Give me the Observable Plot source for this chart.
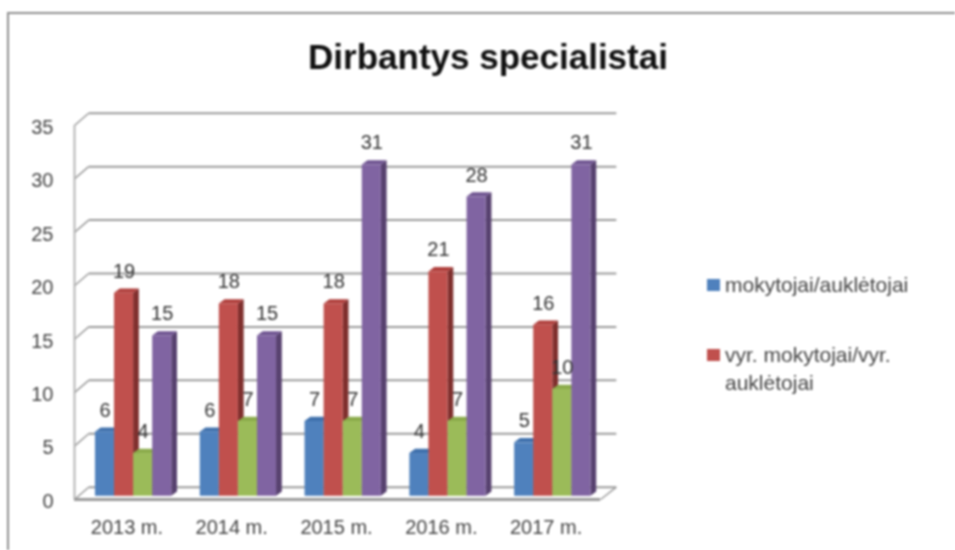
<!DOCTYPE html>
<html lang="lt">
<head>
<meta charset="utf-8">
<script src="https://cdn.jsdelivr.net/npm/d3@7"></script>
<script src="https://cdn.jsdelivr.net/npm/@observablehq/plot@0.6"></script>
<style>
  html, body { margin: 0; background: #fff; }
  #page { position: relative; width: 955px; height: 550px; overflow: hidden; font-family: "Liberation Sans", sans-serif; filter: blur(0.9px); }
  #frame { position: absolute; left: 7px; top: 12px; width: 960px; height: 550px; border-left: 2px solid #8f8f8f; border-top: 2px solid #8f8f8f; }
  #title { position: absolute; left: 0; width: 976px; top: 37px; text-align: center; font-size: 35px; font-weight: bold; color: #111; white-space: nowrap; }
  #chart { position: absolute; left: 0; top: 0; }
  .legend { position: absolute; left: 707px; width: 240px; color: #444; font-size: 21px; line-height: 28px; }
  .legend i { position: absolute; left: 0; top: 8px; width: 13px; height: 12px; }
  .legend span { display: block; margin-left: 18px; }
</style>
</head>
<body>
<div id="page">
  <div id="frame"></div>
  <div id="chart"></div>
  <div id="title"></div>
  <div id="legend"></div>
</div>
<script>
const chartTitle = "Dirbantys specialistai";
const years = ["2013 m.", "2014 m.", "2015 m.", "2016 m.", "2017 m."];
const yTicks = [0, 5, 10, 15, 20, 25, 30, 35];
const seriesNames = ["mokytojai/auklėtojai", "vyr. mokytojai/vyr. auklėtojai", "", ""];
const mokytojai = [6, 6, 7, 4, 5];
const vyrMokytojai = [19, 18, 18, 21, 16];
const trecia = [4, 7, 7, 7, 10];
const ketvirta = [15, 15, 31, 28, 31];
const frontColors = ["#4F81BD", "#C0504D", "#9BBB59", "#8064A2"];
const sideColors = ["#375E8E", "#7F2F2D", "#6F8A3C", "#57416F"];
const topColors = ["#3F70AC", "#B03F3C", "#8BAB4B", "#6F5491"];

const values = [mokytojai, vyrMokytojai, trecia, ketvirta];
const wallX = 0.135, wallY = 1.15;          // depth of the chart box, in scale units
const floorEnd = 5.02, gridEnd = 5.17;
const baseX = 0.2, barW = 0.182, baseY = 0.3; // bars stand on the middle of the floor
const capX = 0.055, capY = 0.4;              // depth of each bar

const bars = values.flatMap((arr, s) => arr.map((v, i) => {
  const x1 = i + baseX + s * barW;
  return { s, i, v, x1, x2: x1 + barW, y1: baseY, y2: v + baseY, cx: x1 + barW / 2 };
}));
const faces = (rows, fn) => rows.flatMap(b => fn(b).map(p => ({ ...p, key: b.s + "-" + b.i, s: b.s })));
const marks = [];

// box: walls, floor and grid
const gridColor = "#9a9a9a";
marks.push(Plot.link(yTicks.slice(1), { x1: wallX, x2: gridEnd, y1: v => v + wallY, y2: v => v + wallY, stroke: gridColor, strokeWidth: 2 }));
marks.push(Plot.link(yTicks, { x1: 0, x2: wallX, y1: v => v, y2: v => v + wallY, stroke: gridColor, strokeWidth: 1.5 }));
marks.push(Plot.link([0], { x1: wallX, x2: gridEnd, y1: wallY, y2: wallY, stroke: gridColor, strokeWidth: 2 }));
marks.push(Plot.link([0], { x1: floorEnd, x2: gridEnd, y1: 0, y2: wallY, stroke: gridColor, strokeWidth: 1.5 }));
marks.push(Plot.ruleX([0], { y1: 0, y2: 35, stroke: "#b5b5b5", strokeWidth: 2 }));
marks.push(Plot.ruleY([0], { x1: 0, x2: floorEnd, stroke: gridColor, strokeWidth: 3 }));

// bars, one series after the other so later ones overlap earlier sides
[0, 1, 2, 3].forEach(s => {
  const rows = bars.filter(b => b.s === s);
  marks.push(Plot.areaY(faces(rows, b => [
    { x: b.x2, a: b.y1, c: b.y2 },
    { x: b.x2 + capX, a: b.y1 + capY, c: b.y2 + capY }
  ]), { x: "x", y1: "a", y2: "c", z: "key", fill: sideColors[s] }));
  marks.push(Plot.areaY(faces(rows, b => [
    { x: b.x1, a: b.y2, c: b.y2 },
    { x: b.x1 + capX, a: b.y2, c: b.y2 + capY },
    { x: b.x2, a: b.y2, c: b.y2 + capY },
    { x: b.x2 + capX, a: b.y2 + capY, c: b.y2 + capY }
  ]), { x: "x", y1: "a", y2: "c", z: "key", fill: topColors[s] }));
  marks.push(Plot.rect(rows, { x1: "x1", x2: "x2", y1: "y1", y2: "y2", fill: frontColors[s], inset: 0 }));
});

marks.push(Plot.text(bars, { x: "cx", y: "y2", text: d => String(d.v), dy: -22, fontSize: 20, fill: "#333" }));
marks.push(Plot.axisY({ ticks: yTicks, tickSize: 0, tickPadding: 21, fontSize: 20, dy: 2, fill: "#444", label: null, tickFormat: d => String(d) }));
marks.push(Plot.axisX({ ticks: years.map((_, i) => i + 0.5), tickFormat: t => years[Math.floor(t)], tickSize: 0, tickPadding: 20, fontSize: 20, fill: "#444", label: null }));

const plot = Plot.plot({
  width: 955, height: 550,
  marginTop: 125, marginBottom: 51, marginLeft: 74, marginRight: 357,
  x: { type: "linear", domain: [0, 5] },
  y: { type: "linear", domain: [0, 35] },
  style: { background: "transparent", fontFamily: '"Liberation Sans", sans-serif', overflow: "visible" },
  marks
});
document.getElementById("chart").append(plot);
document.getElementById("title").textContent = chartTitle;

const legendTops = [271, 341];
seriesNames.slice(0, 2).forEach((name, k) => {
  const d = document.createElement("div");
  d.className = "legend";
  d.style.top = legendTops[k] + "px";
  const sw = document.createElement("i");
  sw.style.background = frontColors[k];
  const t = document.createElement("span");
  t.textContent = name;
  d.append(sw, t);
  document.getElementById("legend").append(d);
});
</script>
</body>
</html>
